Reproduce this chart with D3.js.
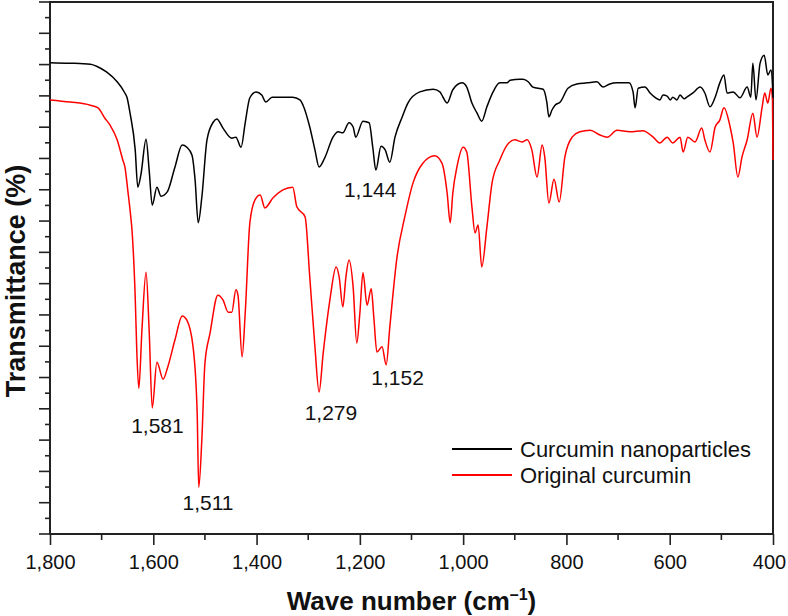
<!DOCTYPE html>
<html>
<head>
<meta charset="utf-8">
<script src="https://cdn.jsdelivr.net/npm/d3@7"></script>
<style>
  body { margin: 0; background: #fff; }
  text { font-family: "Liberation Sans", Arial, sans-serif; }
</style>
</head>
<body>
<div id="chart"></div>
<script>

// wave numbers (cm-1) and transmittance (arbitrary %, axis is unlabelled)
var nanoWn = [1800,1761,1722,1703,1690,1670,1655,1651,1645,1635,1630,1624,1614,1608,1602,1593,1585,1573,1558,1544,
  1535,1525,1519,1513,1506,1496,1484,1477,1465,1448,1440,1430,1422,1413,1401,1390,1382,1370,1349,1330,
  1316,1310,1297,1287,1279,1268,1252,1242,1233,1221,1213,1208,1194,1182,1175,1169,1159,1151,1142,1132,
  1118,1107,1084,1058,1045,1039,1031,1020,1002,993,983,973,964,954,942,929,915,909,890,884,
  874,865,845,838,834,828,822,812,797,780,760,741,729,716,702,679,671,667,661,648,
  638,629,619,613,605,599,594,586,580,572,567,555,541,532,522,512,503,495,489,477,
  464,450,443,439,433,425,417,410,404,401,400];
var nanoT = [88.6,88.5,88.3,87.6,86.8,85.0,82.9,82.1,79.1,72.2,65.2,67.5,74.2,68.4,61.8,65.2,63.5,64.3,69.0,73.1,
  72.7,71.2,66.5,58.5,63.3,74.1,77.4,78.0,76.3,74.4,74.6,72.7,77.3,82.0,83.1,82.5,81.2,82.1,82.1,82.1,
  81.6,80.6,76.5,72.2,69.0,70.7,74.6,75.6,75.4,77.3,76.5,74.6,77.6,77.3,72.7,68.4,72.9,72.2,69.9,74.6,
  78.4,81.0,83.1,83.6,83.1,82.1,81.0,83.5,84.8,84.0,81.0,79.1,77.6,80.3,83.1,84.8,84.8,85.3,85.5,85.5,
  85.0,84.0,83.6,81.2,78.4,79.7,80.6,81.2,83.8,84.6,84.8,85.0,84.0,84.6,84.8,84.8,83.1,80.1,83.8,84.0,
  82.9,82.1,81.6,82.5,82.3,81.6,82.1,81.6,82.5,81.8,82.1,82.9,84.0,82.9,80.3,82.1,84.8,86.3,82.9,83.1,
  82.0,84.0,82.1,88.5,81.6,88.5,90.0,86.3,87.2,84.4,82.0];

var origWn = [1800,1761,1722,1707,1694,1684,1670,1659,1655,1649,1645,1641,1635,1632,1628,1622,1614,1608,1602,1593,
  1581,1572,1558,1544,1535,1523,1515,1512,1506,1500,1490,1475,1465,1455,1448,1440,1436,1428,1422,1413,
  1403,1393,1384,1368,1349,1330,1322,1306,1297,1287,1279,1271,1258,1246,1240,1233,1227,1221,1213,1206,
  1200,1194,1186,1178,1173,1167,1157,1149,1142,1128,1113,1097,1078,1055,1041,1031,1025,1020,1012,1000,
  993,983,977,971,964,954,944,929,915,900,886,876,867,857,847,842,834,824,814,803,
  789,774,754,735,721,702,677,652,632,619,605,594,580,574,565,551,538,532,522,512,
  503,495,483,477,468,460,450,439,431,421,416,410,404,401,400];
var origT = [81.6,81.2,80.6,80.1,78.2,76.9,74.1,70.3,69.0,64.3,60.9,56.8,44.5,34.6,27.4,38.3,49.2,38.3,23.7,32.3,
  29.1,31.4,36.5,41.0,40.2,35.2,22.7,8.8,17.7,32.1,37.8,44.9,44.0,41.7,41.7,45.9,44.9,33.3,41.5,58.5,
  62.8,63.7,61.3,63.2,64.7,65.2,61.5,59.6,48.3,35.2,26.7,34.0,44.0,50.2,48.3,42.7,48.3,51.5,46.4,35.9,
  41.5,49.1,43.0,46.1,40.8,34.2,35.2,31.8,38.9,52.1,59.6,66.0,69.7,71.1,69.7,64.1,58.5,64.1,69.0,72.7,
  71.8,61.5,56.6,58.1,50.2,57.7,66.0,70.3,73.1,74.1,73.7,74.1,72.2,67.1,73.1,70.9,62.2,66.7,62.4,70.9,
  74.6,75.6,75.9,75.0,74.6,75.9,75.6,75.8,74.6,73.5,74.6,73.5,74.6,71.8,74.6,73.7,76.3,74.1,71.8,76.5,
  77.8,80.1,76.5,73.5,67.1,70.9,74.1,79.1,74.6,80.3,82.9,81.0,83.8,81.6,70.3];

var seriesNames = ["Curcumin nanoparticles", "Original curcumin"];
var seriesColors = ["#000000", "#ff0000"];

// peak labels: text, wave number and transmittance where the label sits
var peakLabels = ["1,581", "1,511", "1,279", "1,152", "1,144"];
var peakWn = [1592, 1494, 1256, 1127, 1180];
var peakT = [19.0, 4.5, 21.4, 28.0, 63.3];

var xTicks = [1800, 1600, 1400, 1200, 1000, 800, 600, 400];
var xMinor = [1700, 1500, 1300, 1100, 900, 700, 500];

// SETUP CHART
const margins = { top: 2, right: 15, bottom: 82, left: 50 };
const width = 788, height = 616;
const graphWidth = width - margins.left - margins.right;
const graphHeight = height - margins.top - margins.bottom;

const svg = d3.select("#chart").append("svg")
  .attr("width", width)
  .attr("height", height);

const graph = svg.append("g")
  .attr("transform", `translate(${margins.left},${margins.top})`);

const x = d3.scaleLinear().domain([1800, 400]).range([0, graphWidth]);
const y = d3.scaleLinear().domain([0, 100]).range([graphHeight, 0]);

const line = d3.line()
  .x(d => x(d[0]))
  .y(d => y(d[1]))
  .curve(d3.curveMonotoneX);

const nanoData = nanoWn.map((w, i) => [w, nanoT[i]]);
const origData = origWn.map((w, i) => [w, origT[i]]);

// y ticks: 34 steps, every other one is long
var yTicks = d3.range(0, 35).map(i => i * 100 / 34);

const yAxisG = graph.append("g");
yAxisG.selectAll("line.tick")
  .data(yTicks)
  .enter().append("line")
  .attr("x1", (d, i) => i % 2 == 0 ? -11 : -5)
  .attr("x2", 0)
  .attr("y1", d => y(d))
  .attr("y2", d => y(d))
  .attr("stroke", "#222")
  .attr("stroke-width", 1.6);

// x axis
const xAxisG = graph.append("g")
  .attr("transform", `translate(0,${graphHeight})`);

xAxisG.call(d3.axisBottom(x).tickValues(xTicks).tickSize(11).tickPadding(10)
  .tickFormat(d3.format(",")));
xAxisG.select(".domain").remove();
xAxisG.selectAll(".tick line").attr("stroke", "#222").attr("stroke-width", 1.6);
xAxisG.selectAll(".tick text")
  .attr("font-family", "Liberation Sans, Arial, sans-serif")
  .attr("font-size", 20)
  .attr("fill", "#111")
  .attr("dx", d => d == 400 ? -4 : 0);

xAxisG.selectAll("line.minor")
  .data(xMinor)
  .enter().append("line")
  .attr("x1", d => x(d)).attr("x2", d => x(d))
  .attr("y1", 0).attr("y2", 6)
  .attr("stroke", "#222")
  .attr("stroke-width", 1.6);

// frame
graph.append("rect")
  .attr("x", 0).attr("y", 0)
  .attr("width", graphWidth).attr("height", graphHeight)
  .attr("fill", "none")
  .attr("stroke", "#222")
  .attr("stroke-width", 2);

// spectra
graph.append("path")
  .datum(origData)
  .attr("fill", "none")
  .attr("stroke", seriesColors[1])
  .attr("stroke-width", 1.5)
  .attr("stroke-linejoin", "round")
  .attr("d", line);

graph.append("path")
  .datum(nanoData)
  .attr("fill", "none")
  .attr("stroke", seriesColors[0])
  .attr("stroke-width", 1.5)
  .attr("stroke-linejoin", "round")
  .attr("d", line);

// peak labels
graph.selectAll("text.peak")
  .data(peakLabels)
  .enter().append("text")
  .attr("class", "peak")
  .attr("x", (d, i) => x(peakWn[i]))
  .attr("y", (d, i) => y(peakT[i]))
  .attr("text-anchor", "middle")
  .attr("font-size", 21)
  .attr("fill", "#111")
  .text(d => d);

// legend
const legend = graph.append("g")
  .attr("transform", `translate(${graphWidth - 321},${447})`);

seriesNames.forEach((name, i) => {
  legend.append("line")
    .attr("x1", 0).attr("x2", 60)
    .attr("y1", i * 26).attr("y2", i * 26)
    .attr("stroke", seriesColors[i])
    .attr("stroke-width", 2);
  legend.append("text")
    .attr("x", 68)
    .attr("y", i * 26 + 8)
    .attr("font-size", 22)
    .attr("fill", "#111")
    .text(name);
});

// axis titles
const xTitle = svg.append("text")
  .attr("x", margins.left + graphWidth / 2)
  .attr("y", 610)
  .attr("text-anchor", "middle")
  .attr("font-size", 26)
  .attr("font-weight", "bold")
  .attr("fill", "#111");
xTitle.append("tspan").text("Wave number (cm");
xTitle.append("tspan").attr("font-size", 16).attr("dy", -10).text("\u20131");
xTitle.append("tspan").attr("dy", 10).text(")");

svg.append("text")
  .attr("transform", "translate(25,281) rotate(-90)")
  .attr("text-anchor", "middle")
  .attr("font-size", 27)
  .attr("font-weight", "bold")
  .attr("fill", "#111")
  .text("Transmittance (%)");

</script>
</body>
</html>
